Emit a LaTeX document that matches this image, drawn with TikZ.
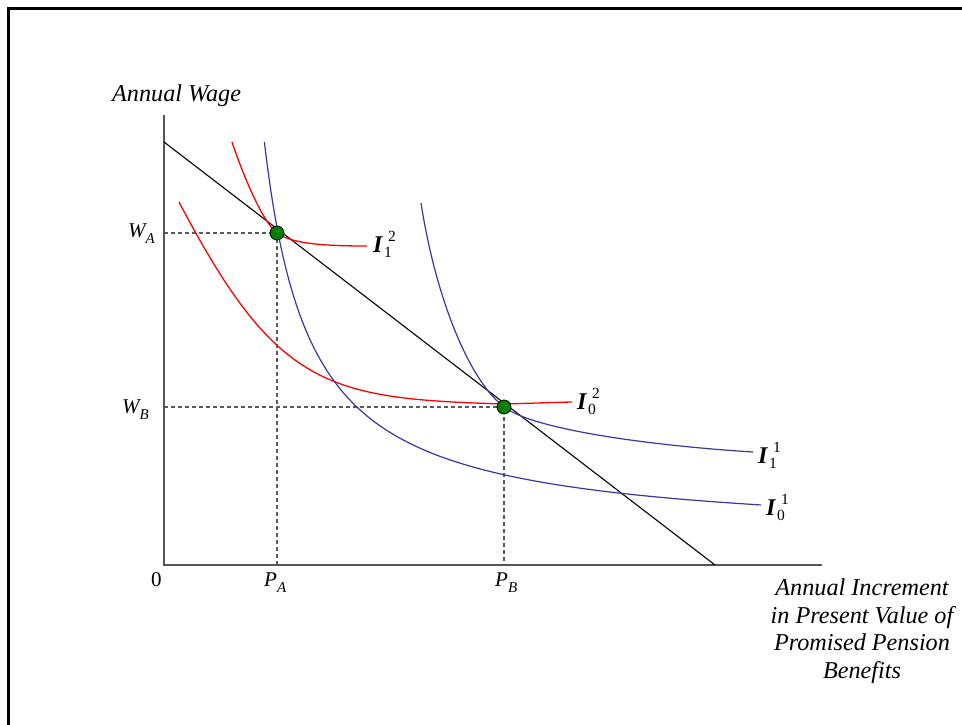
\documentclass[tikz,border=0pt]{standalone}
\usepackage{fontspec}
\setmainfont{Liberation Serif}
\definecolor{icblue}{RGB}{55,55,160}
\definecolor{icred}{RGB}{255,0,0}
\definecolor{dotgreen}{RGB}{0,130,0}
\definecolor{axisgray}{RGB}{85,85,85}
\definecolor{guidegray}{RGB}{90,90,90}
\newcommand\Ilab[2]{{\fontsize{24}{24}\selectfont\bfseries\itshape I}\kern1.5pt\makebox[0pt][l]{\raisebox{-5pt}{\fontsize{15.5}{15}\selectfont #1}}\kern4pt\raisebox{11pt}{\fontsize{15.5}{15}\selectfont #2}}
\newcommand\SubLab[2]{{\fontsize{21}{22}\selectfont\itshape #1}\raisebox{-6pt}{\fontsize{15}{15}\selectfont\itshape #2}}
\begin{document}
\begin{tikzpicture}[x=1pt,y=-1pt,
  axis/.style={draw=axisgray,line width=1.5pt},
  guide/.style={draw=guidegray,line width=1.2pt,dash pattern=on 4pt off 3pt},
  budget/.style={draw=black,line width=1.1pt},
  redcurve/.style={draw=icred,line width=1.3pt},
  bluecurve/.style={draw=icblue,line width=1.2pt},
  dot/.style={circle,fill=dotgreen,draw=black,line width=0.8pt,minimum size=14pt,inner sep=0pt},
  axlabel/.style={font=\fontsize{24.2}{27.7}\selectfont\itshape,inner sep=0pt},
  curvelabel/.style={anchor=base west,inner sep=0pt},
  ticklabel/.style={anchor=base west,inner sep=0pt}]
\useasboundingbox (0,0) rectangle (962,725);
% frame
\draw[line width=2.6pt] (962,8.5) -- (8.5,8.5) -- (8.5,725);
% key points
\coordinate (O) at (164,565);
\coordinate (Ytop) at (164,115);
\coordinate (Xend) at (822,565);
\coordinate (Apt) at (277,233);
\coordinate (Bpt) at (504,407);
\coordinate (WA) at (164,233);
\coordinate (WB) at (164,407);
\coordinate (PA) at (277,565);
\coordinate (PB) at (504,565);
\coordinate (L1) at (164,142);
\coordinate (L2) at (715,565);
% guides
\draw[guide] (WA) -- (Apt) -- (PA);
\draw[guide] (WB) -- (Bpt) -- (PB);
% axes
\draw[axis] (Ytop) -- (O) -- (Xend);
% budget line
\draw[budget] (L1) -- (L2);
% red curves
\draw[redcurve] (232,142) .. controls (242,172) and (262,221.5) .. (Apt) .. controls (292,244.5) and (330,246) .. (367,246);
\draw[redcurve] (179,202) .. controls (276.7,387.6) and (326.2,398.7) .. (504,404) .. controls (530,403.3) and (550,402.5) .. (572,402);
% blue curves
\draw[bluecurve] plot[domain=264.4:761,samples=240] (\x,{538.5-182/((\x-218.5)/100)});
\draw[bluecurve] (421,203) .. controls (435.9,298.6) and (469.1,380.2) .. (Bpt) .. controls (533,429.4) and (649.25,445.5) .. (753,452);
% dots
\node[dot] (A) at (Apt) {};
\node[dot] (B) at (Bpt) {};
% curve labels
\node[curvelabel] (I12) at (373,252) {\Ilab{1}{2}};
\node[curvelabel] (I02) at (577,409.5) {\Ilab{0}{2}};
\node[curvelabel] (I11) at (758,463) {\Ilab{1}{1}};
\node[curvelabel] (I01) at (766,515) {\Ilab{0}{1}};
% axis tick labels
\node[ticklabel] (WAlab) at (128,237) {\SubLab{W}{A}};
\node[ticklabel] (WBlab) at (122,413) {\SubLab{W}{B}};
\node[ticklabel] (PAlab) at (264,586) {\SubLab{P}{A}};
\node[ticklabel] (PBlab) at (495,586) {\SubLab{P}{B}};
\node[ticklabel] (zero) at (151,586) {\fontsize{21}{22}\selectfont 0};
% axis titles
\node[axlabel,anchor=base west] (ylab) at (112,102) {Annual Wage};
\node[axlabel,anchor=base] (xl1) at (862,595) {Annual Increment};
\node[axlabel,anchor=base] (xl2) at (862,623) {in Present Value of};
\node[axlabel,anchor=base] (xl3) at (862,650.5) {Promised Pension};
\node[axlabel,anchor=base] (xl4) at (862,678) {Benefits};
\end{tikzpicture}
\end{document}
